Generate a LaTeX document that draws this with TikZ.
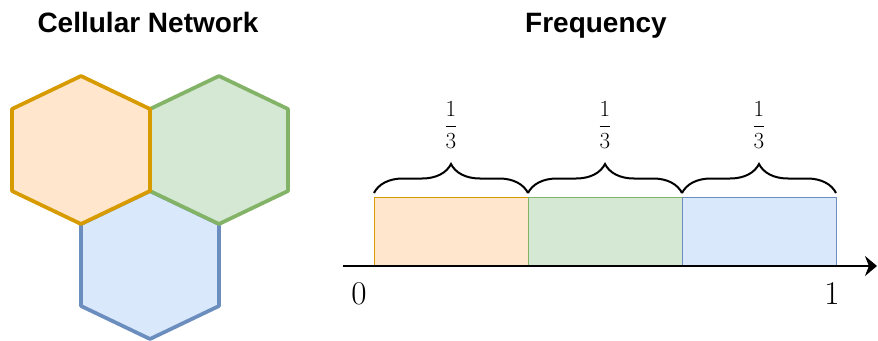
\documentclass[tikz,border=0pt]{standalone}
\usepackage{fontspec}
\usepackage{amsmath}
\usepackage{tikz}
\usetikzlibrary{arrows.meta, decorations.pathreplacing, positioning}
\newfontfamily\titlefont{Liberation Sans}
\definecolor{fillorange}{HTML}{FFE6CC}
\definecolor{lineorange}{HTML}{D79B00}
\definecolor{fillgreen}{HTML}{D5E8D4}
\definecolor{linegreen}{HTML}{82B366}
\definecolor{fillblue}{HTML}{DAE8FC}
\definecolor{lineblue}{HTML}{6C8EBF}
\tikzset{>={Stealth[length=9pt,width=15pt]}}

\begin{document}
\begin{tikzpicture}[x=0.75pt, y=0.75pt,
        cell/.style={line width=2.8pt, line join=round},
        band/.style={line width=0.75pt, minimum width=115.5pt, minimum height=51.75pt, inner sep=0pt, outer sep=0pt},
        title/.style={font=\titlefont\bfseries\fontsize{21}{25}\selectfont, anchor=base},
        tick/.style={font=\fontsize{23}{28}\selectfont, anchor=base},
        share/.style={font=\fontsize{17}{20}\selectfont}]
        \useasboundingbox (0,0) rectangle (878,340);
        \node[title] (cellular) at (148,307) {Cellular Network};
        \node[title] (frequency) at (596,307) {Frequency};
        % cells
        \draw[cell, fill=fillblue, draw=lineblue] (150,149)--(219,116)--(219,34)--(150,1)--(81,34)--(81,116)--cycle;
        \draw[cell, fill=fillgreen, draw=linegreen] (219,264)--(288,231)--(288,149)--(219,116)--(150,149)--(150,231)--cycle;
        \draw[cell, fill=fillorange, draw=lineorange] (81,264)--(150,231)--(150,149)--(81,116)--(12,149)--(12,231)--cycle;
        % spectrum
        \foreach \i/\c in {1/orange, 2/green, 3/blue}
        {
            \node[band, fill=fill\c, draw=line\c] (band\i) at (297+154*\i,108.5) {};
            \draw[line width=1.5pt, decorate, decoration={brace, amplitude=21.75pt}]
                ([yshift=3pt]band\i.north west) -- ([yshift=3pt]band\i.north east)
                node[share, midway, yshift=51pt] (share\i) {$\dfrac{1}{3}$};
        }
        \coordinate (axisstart) at (343,74);
        \coordinate (axisend) at (877,74);
        \draw[->, line width=1.5pt] (axisstart) -- (axisend);
        \node[tick] (zero) at (359,36) {$0$};
        \node[tick] (one) at (832,36) {$1$};
    \end{tikzpicture}
\end{document}
